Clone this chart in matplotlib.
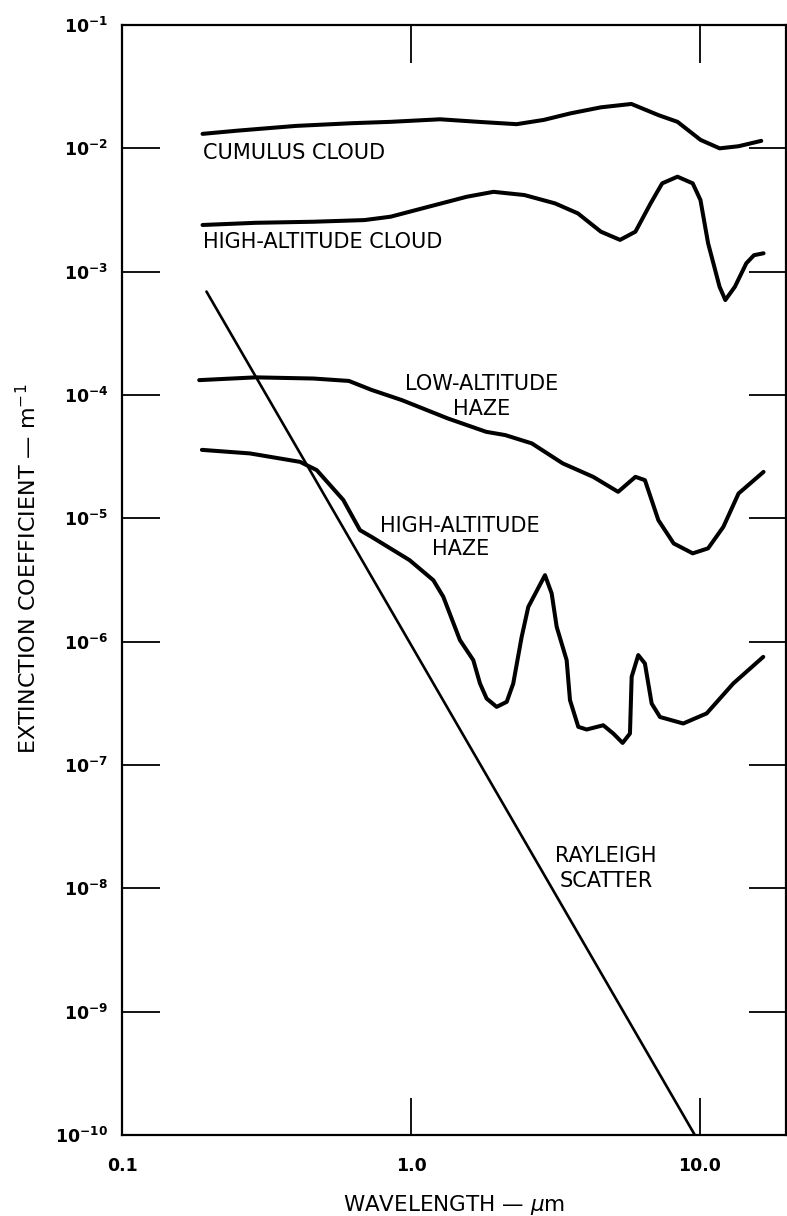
# Extinction coefficient vs wavelength for clouds, haze and Rayleigh scatter
# log-log plot, labels written next to each curve

import matplotlib
matplotlib.use('Agg')  # Non-interactive backend (no display required)
import matplotlib.pyplot as plt
from matplotlib.ticker import NullLocator

# =====================================================================
# DATA  (wavelength in um, extinction coefficient in 1/m)
# =====================================================================
cumulus_wl = [0.19, 0.25, 0.40, 0.63, 0.85, 1.26, 1.71, 2.32, 2.88, 3.56,
              4.54, 5.79, 7.18, 8.36, 10.05, 11.7, 13.6, 16.3]
cumulus_ext = [1.31e-2, 1.39e-2, 1.52e-2, 1.60e-2, 1.64e-2, 1.72e-2, 1.64e-2,
               1.57e-2, 1.70e-2, 1.92e-2, 2.15e-2, 2.29e-2, 1.86e-2, 1.64e-2,
               1.17e-2, 1.00e-2, 1.04e-2, 1.15e-2]

hicloud_wl = [0.19, 0.29, 0.46, 0.69, 0.85, 1.15, 1.56, 1.93, 2.47, 3.15,
              3.78, 4.54, 5.29, 5.98, 6.75, 7.40, 8.36, 9.44, 10.04, 10.67,
              11.69, 12.24, 13.21, 14.47, 15.38, 16.6]
hicloud_ext = [2.39e-3, 2.49e-3, 2.54e-3, 2.62e-3, 2.79e-3, 3.36e-3, 4.05e-3,
               4.44e-3, 4.18e-3, 3.58e-3, 2.97e-3, 2.11e-3, 1.81e-3, 2.11e-3,
               3.58e-3, 5.20e-3, 5.89e-3, 5.20e-3, 3.81e-3, 1.70e-3,
               7.55e-4, 5.89e-4, 7.55e-4, 1.17e-3, 1.36e-3, 1.41e-3]

lohaze_wl = [0.185, 0.29, 0.46, 0.61, 0.73, 0.93, 1.34, 1.82, 2.12, 2.62,
             3.35, 4.27, 5.21, 5.98, 6.45, 7.18, 8.11, 9.44, 10.67, 12.05,
             13.6, 16.6]
lohaze_ext = [1.32e-4, 1.39e-4, 1.36e-4, 1.30e-4, 1.10e-4, 9.09e-5, 6.46e-5,
              5.03e-5, 4.73e-5, 4.05e-5, 2.79e-5, 2.17e-5, 1.64e-5, 2.17e-5,
              2.04e-5, 9.66e-6, 6.26e-6, 5.20e-6, 5.71e-6, 8.53e-6,
              1.59e-5, 2.38e-5]

hihaze_wl = [0.189, 0.277, 0.413, 0.472, 0.583, 0.666, 0.73, 0.989, 1.195,
             1.294, 1.477, 1.643, 1.733, 1.827, 1.979, 2.144, 2.259, 2.415,
             2.546, 2.909, 3.068, 3.193, 3.457, 3.55, 3.793, 4.055, 4.628,
             5.012, 5.40, 5.725, 5.803, 6.116, 6.45, 6.806, 7.273, 8.753,
             10.55, 13.04, 16.56]
hihaze_ext = [3.59e-5, 3.36e-5, 2.87e-5, 2.46e-5, 1.41e-5, 8.02e-6, 7.08e-6,
              4.58e-6, 3.15e-6, 2.31e-6, 1.03e-6, 7.08e-7, 4.58e-7, 3.46e-7,
              2.96e-7, 3.25e-7, 4.58e-7, 1.09e-6, 1.91e-6, 3.46e-6, 2.46e-6,
              1.32e-6, 7.08e-7, 3.36e-7, 2.04e-7, 1.94e-7, 2.10e-7, 1.80e-7,
              1.51e-7, 1.80e-7, 5.19e-7, 7.78e-7, 6.65e-7, 3.15e-7, 2.45e-7,
              2.17e-7, 2.62e-7, 4.58e-7, 7.53e-7]

rayleigh_wl = [0.196, 9.6]
rayleigh_ext = [6.9e-4, 1.0e-10]

x_ticks = [0.1, 1.0, 10.0]
x_ticklabels = ["0.1", "1.0", "10.0"]
y_ticks = [1e-1, 1e-2, 1e-3, 1e-4, 1e-5, 1e-6, 1e-7, 1e-8, 1e-9, 1e-10]
y_ticklabels = [r"$\mathbf{10^{-%d}}$" % k for k in range(1, 11)]


# =====================================================================
# PLOT
# =====================================================================
def plot_extinction():
    plt.rcParams['font.family'] = ['DejaVu Sans']

    fig = plt.figure(figsize=(7.87, 12.16), dpi=100)
    ax = fig.add_axes([122 / 787, 1 - 1135 / 1216, 664 / 787, 1110 / 1216])

    lw_curve = 2.9
    for wl, ext in [(cumulus_wl, cumulus_ext), (hicloud_wl, hicloud_ext),
                    (lohaze_wl, lohaze_ext), (hihaze_wl, hihaze_ext)]:
        ax.loglog(wl, ext, color="black", linewidth=lw_curve,
                  solid_capstyle="round", solid_joinstyle="round")
    ax.loglog(rayleigh_wl, rayleigh_ext, color="black", linewidth=1.9,
              solid_capstyle="round")

    ax.set_xlim(0.1, 19.85)
    ax.set_ylim(1e-10, 1e-1)

    # curve labels
    lab = dict(fontsize=15, color="black")
    ax.text(0.19, 9.2e-3, "CUMULUS CLOUD", ha="left", va="center", **lab)
    ax.text(0.19, 1.74e-3, "HIGH-ALTITUDE CLOUD", ha="left", va="center", **lab)
    ax.text(1.75, 9.7e-5, "LOW-ALTITUDE\nHAZE", ha="center", va="center",
            multialignment="center", linespacing=1.3, **lab)
    ax.text(1.48, 7.0e-6, "HIGH-ALTITUDE\nHAZE", ha="center", va="center",
            multialignment="center", linespacing=1.2, **lab)
    ax.text(4.73, 1.44e-8, "RAYLEIGH\nSCATTER", ha="center", va="center",
            multialignment="center", linespacing=1.3, **lab)

    # ticks: long, inward, on all four sides, no minor ticks
    ax.set_xticks(x_ticks)
    ax.set_xticklabels(x_ticklabels, fontweight="bold")
    ax.set_yticks(y_ticks)
    ax.set_yticklabels(y_ticklabels)
    ax.xaxis.set_minor_locator(NullLocator())
    ax.yaxis.set_minor_locator(NullLocator())
    ax.tick_params(axis="both", which="major", direction="in", length=27,
                   width=1.3, top=True, right=True, labelsize=12.5)
    ax.tick_params(axis="x", pad=16)
    ax.tick_params(axis="y", pad=10)

    for sp in ax.spines.values():
        sp.set_linewidth(1.6)

    ax.set_xlabel(r"WAVELENGTH — $\mu$m", fontsize=15.5)
    ax.set_ylabel(r"EXTINCTION COEFFICIENT — m$^{-1}$", fontsize=16)
    ax.xaxis.set_label_coords(0.5, -0.052)
    ax.yaxis.set_label_coords(-0.1235, 0.51)

    plt.savefig("out.png", dpi=100)
    plt.close()
    print("Saved: out.png")


# =====================================================================
# MAIN
# =====================================================================
if __name__ == "__main__":
    plot_extinction()
